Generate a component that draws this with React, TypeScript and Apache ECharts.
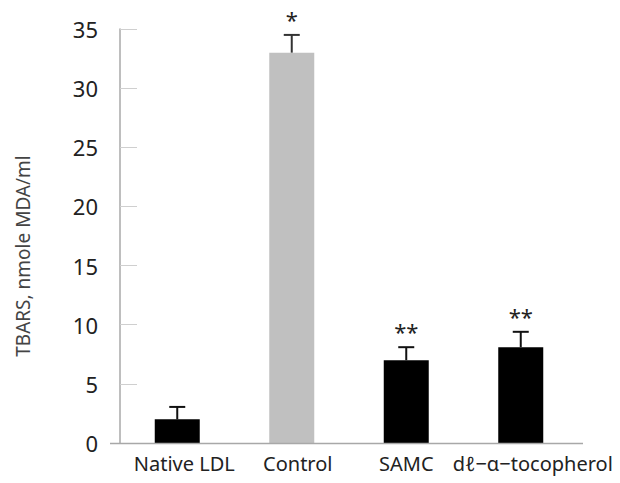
import React, { useEffect, useRef } from "react";
import * as echarts from "echarts";

const categories = ["Native LDL", "Control", "SAMC", "dℓ−α−tocopherol"];
const means = [2.0, 33.0, 7.0, 8.1];
const errors = [1.05, 1.5, 1.1, 1.3];
const marks = ["", "*", "**", "**"];
const barColors = ["#000000", "#c0c0c0", "#000000", "#000000"];
const errColors = ["#111111", "#333333", "#111111", "#111111"];
const labelShift = [14, 12, 0, 24];
const yMin = 0;
const yMax = 35;
const yStep = 5;
const yName = "TBARS, nmole MDA/ml";

const FONT = "'Noto Sans', 'Open Sans', sans-serif";

export default function App() {
  const ref = useRef<HTMLDivElement>(null);
  useEffect(() => {
    if (!ref.current) return;
    document.body.style.margin = "0";
    const chart = echarts.init(ref.current, null, { renderer: "svg" });
    const rich: Record<string, any> = {};
    labelShift.forEach((s, i) => {
      rich["c" + i] = { padding: [0, 0, 0, s], fontFamily: FONT, fontSize: 20, color: "#222" };
    });
    chart.setOption({
      animation: false,
      backgroundColor: "#ffffff",
      grid: { left: 120, right: 42, top: 29, bottom: 40, containLabel: false },
      xAxis: {
        type: "category",
        data: categories,
        axisLine: { show: false },
        axisTick: { show: false },
        axisLabel: {
          color: "#222",
          fontFamily: FONT,
          fontSize: 20,
          margin: 10,
          interval: 0,
          formatter: (v: string, idx: number) => `{c${idx}|${v}}`,
          rich,
        },
      },
      yAxis: {
        type: "value",
        min: yMin,
        max: yMax,
        interval: yStep,
        splitLine: { show: false },
        axisLine: { show: true, lineStyle: { color: "#a8a8a8", width: 1.5 } },
        axisTick: { show: true, inside: true, length: 17, lineStyle: { color: "#cfcfcf", width: 1 } },
        axisLabel: { color: "#222", fontFamily: FONT, fontSize: 22, margin: 22 },
      },
      graphic: [
        {
          type: "line",
          shape: { x1: 110, y1: 443.5, x2: 583, y2: 443.5 },
          style: { stroke: "#a8a8a8", lineWidth: 1.5 },
          z: 10,
        },
        {
          type: "text",
          x: 23,
          y: 256,
          rotation: Math.PI / 2,
          style: {
            text: yName,
            fontFamily: FONT,
            fontSize: 19,
            fill: "#444",
            textAlign: "center",
            textVerticalAlign: "middle",
          },
        },
      ],
      series: [
        {
          type: "bar",
          barWidth: 45,
          data: means.map((v, i) => ({ value: v, itemStyle: { color: barColors[i] } })),
        },
        {
          type: "custom",
          data: means.map((v, i) => [i, v, errors[i]]),
          z: 5,
          renderItem: (params: any, api: any) => {
            const i = api.value(0);
            const v = api.value(1);
            const e = api.value(2);
            const base = api.coord([i, v]);
            const top = api.coord([i, v + e]);
            const color = errColors[i];
            const cap = 8;
            return {
              type: "group",
              children: [
                {
                  type: "line",
                  shape: { x1: base[0], y1: base[1], x2: top[0], y2: top[1] },
                  style: { stroke: color, lineWidth: 2 },
                },
                {
                  type: "line",
                  shape: { x1: top[0] - cap, y1: top[1], x2: top[0] + cap, y2: top[1] },
                  style: { stroke: color, lineWidth: 2 },
                },
                {
                  type: "text",
                  x: top[0],
                  y: top[1] - 16,
                  style: {
                    text: marks[i],
                    fontFamily: FONT,
                    fontSize: 22,
                    fill: "#222",
                    textAlign: "center",
                    textVerticalAlign: "middle",
                  },
                },
              ],
            };
          },
        },
      ],
    });
    return () => chart.dispose();
  }, []);
  return <div ref={ref} style={{ width: 620, height: 483 }} />;
}
